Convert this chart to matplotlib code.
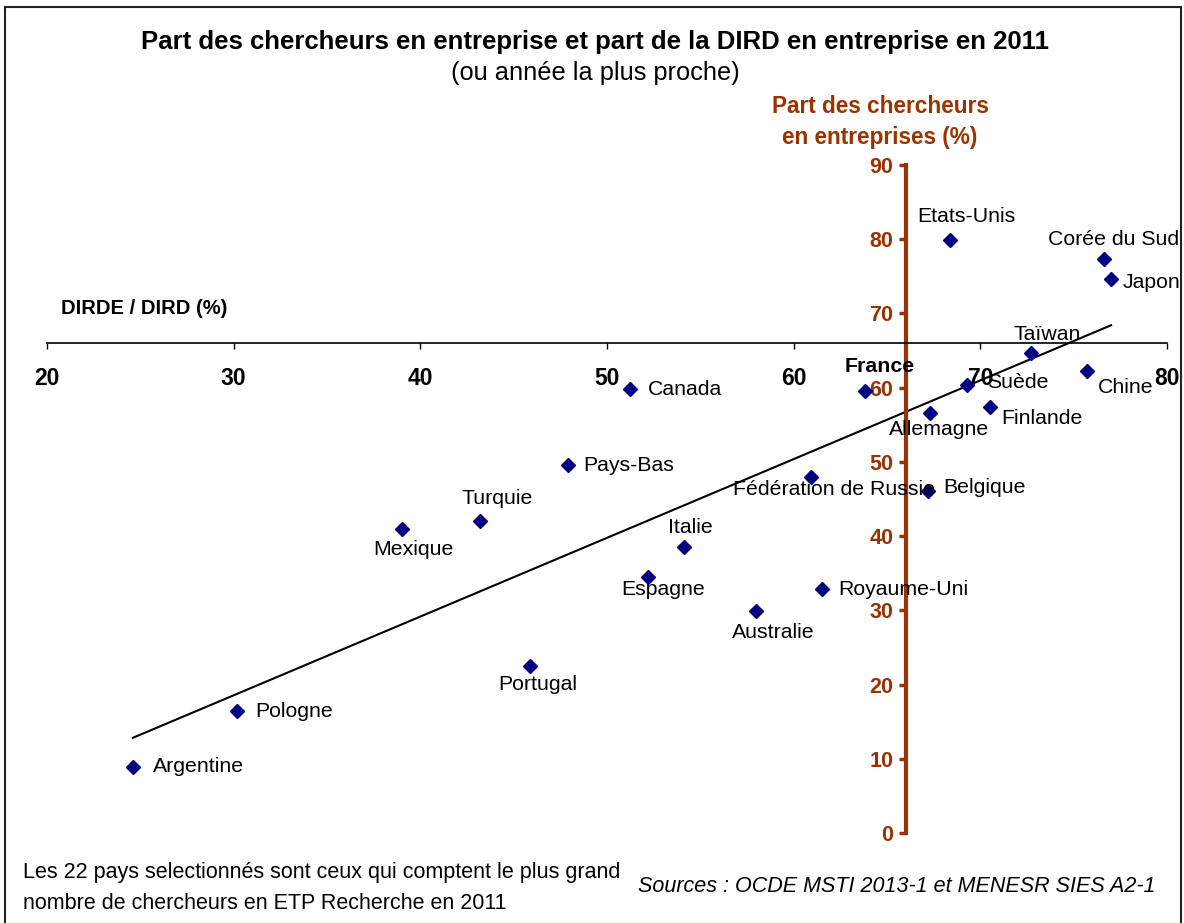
import numpy as np
import matplotlib
matplotlib.use("Agg")
from matplotlib import pyplot as plt
from matplotlib.patches import Rectangle

plt.rcParams['font.family'] = ['Liberation Sans', 'DejaVu Sans']

# DIRDE / DIRD (%) et part des chercheurs en entreprise (%), 2011
pays = ["Argentine", "Pologne", "Mexique", "Turquie", "Portugal", "Pays-Bas",
        "Canada", "Espagne", "Italie", "Australie", "Fédération de Russie",
        "Royaume-Uni", "France", "Allemagne", "Belgique", "Etats-Unis",
        "Suède", "Finlande", "Taïwan", "Chine", "Corée du Sud", "Japon"]
dirde = [24.6, 30.2, 39.0, 43.2, 45.9, 47.9,
         51.25, 52.2, 54.15, 58.0, 60.95,
         61.5, 63.8, 67.3, 67.2, 68.4,
         69.3, 70.5, 72.7, 75.7, 76.6, 77.0]
chercheurs = [8.9, 16.4, 41.0, 42.0, 22.5, 49.6,
              59.8, 34.5, 38.6, 29.9, 48.0,
              32.9, 59.6, 56.6, 46.1, 79.9,
              60.4, 57.4, 64.7, 62.3, 77.3, 74.6]

# position des etiquettes (decalage en pixels, alignement)
decal = {
    "Argentine": (20, 0, "left"), "Pologne": (18, 0, "left"),
    "Mexique": (12, -21, "center"), "Turquie": (17, 23, "center"),
    "Portugal": (7, -18, "center"), "Pays-Bas": (15, -1, "left"),
    "Canada": (18, 0, "left"), "Espagne": (15, -13, "center"),
    "Italie": (6, 19, "center"), "Australie": (17, -21, "center"),
    "Fédération de Russie": (23, -13, "center"), "Royaume-Uni": (17, -1, "left"),
    "France": (15, 24, "center"), "Allemagne": (9, -17, "center"),
    "Belgique": (15, 3, "left"), "Etats-Unis": (16, 23, "center"),
    "Suède": (20, 2, "left"), "Finlande": (12, -12, "left"),
    "Taïwan": (16, 18, "center"), "Chine": (11, -17, "left"),
    "Corée du Sud": (10, 20, "center"), "Japon": (12, -3, "left"),
}

brun = '#993300'
W, H = 1184, 923
fig = plt.figure(figsize=(W/100, H/100), dpi=100)
ax = fig.add_axes([47/W, 1-833/H, 1120/W, 668/H])

ax.plot(dirde, chercheurs, 'D', color='#000080', ms=7.5, clip_on=False, zorder=3)

# droite de tendance (moindres carres)
a, b = np.polyfit(dirde, chercheurs, 1)
xs = np.array([min(dirde), max(dirde)])
ax.plot(xs, a*xs + b, color='black', lw=1.5, zorder=2)

for p, x, y in zip(pays, dirde, chercheurs):
    dx, dy, ha = decal[p]
    ax.annotate(p, (x, y), xytext=(dx, dy), textcoords='offset pixels',
                ha=ha, va='center', fontsize=15.3,
                fontweight='bold' if p == "France" else 'normal', zorder=4)

ax.set_xlim(20, 80)
ax.set_ylim(0, 90)
ax.spines['top'].set_visible(False)
ax.spines['right'].set_visible(False)
ax.spines['left'].set_position(('data', 66))
ax.spines['bottom'].set_position(('data', 66))
ax.spines['left'].set_color(brun)
ax.spines['left'].set_linewidth(3)
ax.spines['bottom'].set_linewidth(1.2)
ax.set_xticks(range(20, 81, 10))
ax.set_yticks(range(0, 91, 10))
ax.tick_params(axis='x', direction='out', length=4, width=1, pad=13, labelsize=16.5)
ax.tick_params(axis='y', direction='out', length=5, width=2.5, color=brun,
               labelcolor=brun, pad=4, labelsize=15.5)
for t in ax.get_xticklabels() + ax.get_yticklabels():
    t.set_fontweight('bold')
ax.patch.set_alpha(0)

fig.text(595/W, 1-42/H, "Part des chercheurs en entreprise et part de la DIRD en entreprise en 2011",
         ha='center', va='center', fontsize=18.5, fontweight='bold')
fig.text(595/W, 1-73/H, "(ou année la plus proche)", ha='center', va='center', fontsize=18.3)
fig.text(880/W, 1-122/H, "Part des chercheurs\nen entreprises (%)", ha='center', va='center',
         fontsize=16.3, fontweight='bold', color=brun, linespacing=1.4)
fig.text(61/W, 1-309/H, "DIRDE / DIRD (%)", ha='left', va='center', fontsize=14.5, fontweight='bold')
fig.text(23/W, 1-888/H, "Les 22 pays selectionnés sont ceux qui comptent le plus grand\n"
         "nombre de chercheurs en ETP Recherche en 2011", ha='left', va='center',
         fontsize=15.5, linespacing=1.6)
fig.text(638/W, 1-887/H, "Sources : OCDE MSTI 2013-1 et MENESR SIES A2-1", ha='left', va='center',
         fontsize=15.5, style='italic')

fig.add_artist(Rectangle((5/W, -0.05), 1176/W, 1.05-7/H, transform=fig.transFigure,
                         fill=False, edgecolor='#222222', lw=1.5))

fig.savefig('out.png', dpi=100)
